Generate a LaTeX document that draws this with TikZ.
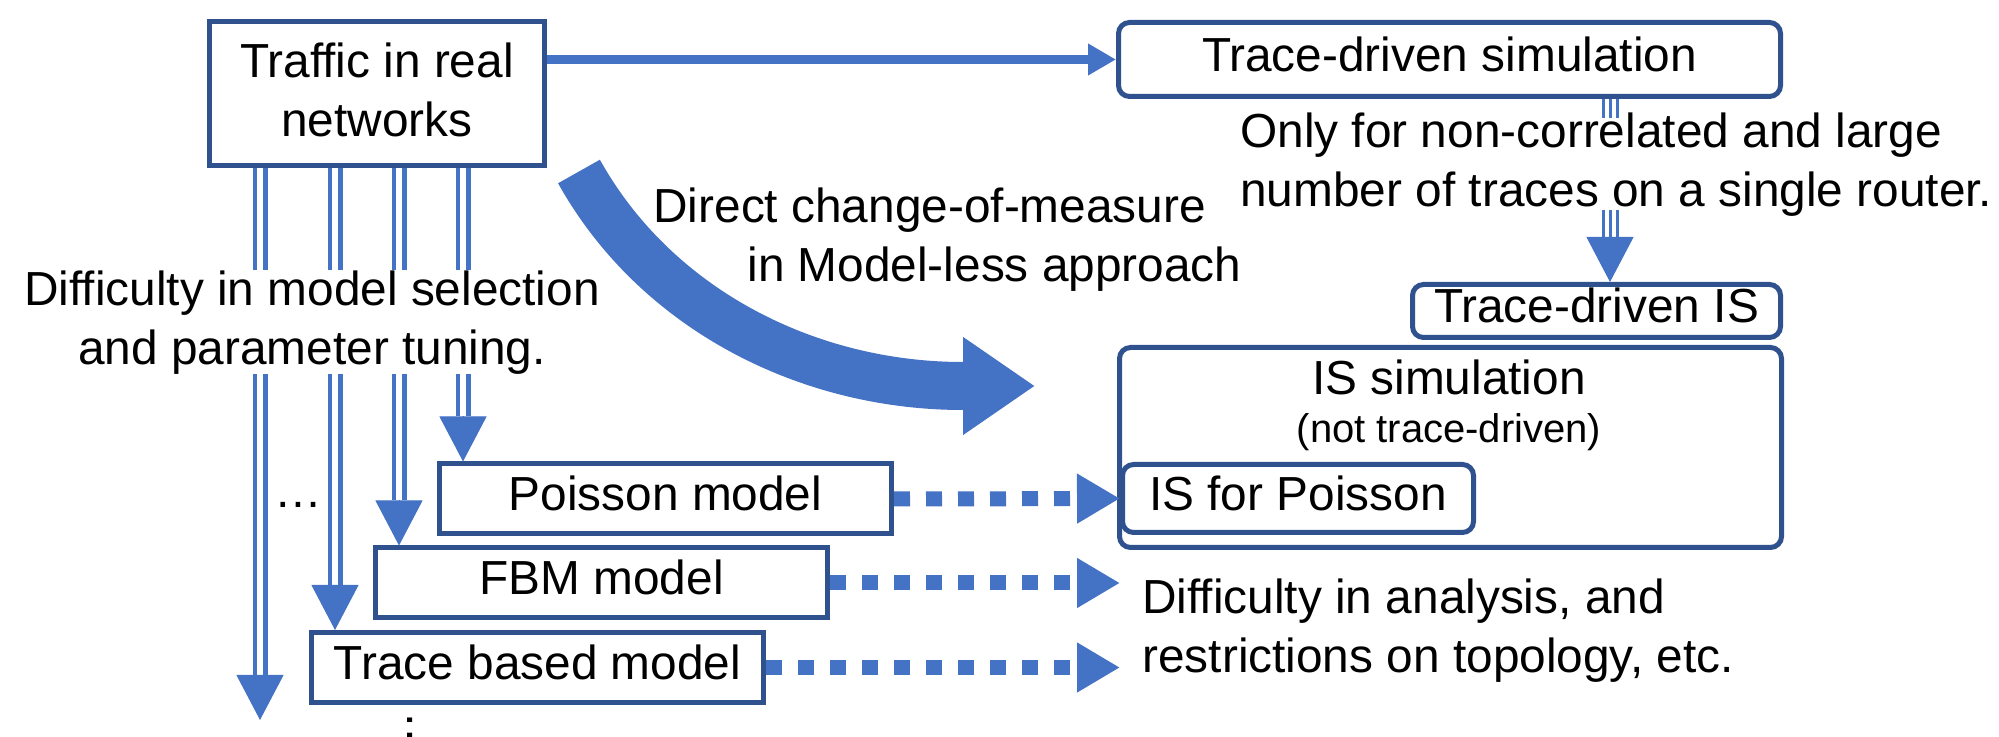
\documentclass[tikz,border=0pt]{standalone}
\usepackage{fontspec}
\setmainfont{Liberation Sans}
\usetikzlibrary{arrows.meta}

\definecolor{arrowblue}{HTML}{4472C4}
\definecolor{boxblue}{HTML}{2F528F}

\newcommand{\diagfont}{\fontsize{23.9pt}{29.5pt}\selectfont}
\newcommand{\notefont}{\fontsize{20pt}{24pt}\selectfont}

\tikzset{
  every node/.style={font=\diagfont},
  box/.style={draw=boxblue, line width=2.5pt, fill=white, inner sep=0pt},
  onebox/.style={box, text height=17pt, text depth=5pt},
  rbox/.style={onebox, rounded corners=5.5pt},
  modelbox/.style={onebox, minimum width=226pt, minimum height=35pt},
  note/.style={inner sep=0pt, fill=white},
  plaintext/.style={inner sep=0pt},
  link/.style={draw=arrowblue, line width=4.5pt, -{Triangle[length=14pt,width=15pt]}},
  dbl/.style={draw=arrowblue, line width=2.25pt, double=white, double distance=3pt},
  trip/.style={draw=arrowblue, line width=1.5pt, double=white, double distance=5.5pt},
  tripcore/.style={draw=arrowblue, line width=1.5pt},
  head/.style={draw=arrowblue, line width=0.5pt, -{Triangle[length=22.5pt,width=23.5pt]}},
  dotlink/.style={draw=arrowblue, line width=7.5pt, dash pattern=on 8pt off 8pt,
    -{Triangle[length=21.5pt,width=23.5pt]}},
  bigarrow/.style={draw=arrowblue, line width=24pt, -{Triangle[length=36pt,width=46.5pt]}},
}

\begin{document}
\begin{tikzpicture}[x=0.5pt, y=-0.5pt]
\useasboundingbox (0,0) rectangle (1999,737);

% ---- boxes ----
\node[box, minimum width=167.5pt, minimum height=72pt, align=center] (traffic) at (377,93.5)
  {Traffic in real\\networks\rule[-3.5pt]{0pt}{0pt}};
\node[rbox, minimum width=331pt, minimum height=37pt] (tds) at (1449.5,59.5) {Trace-driven simulation};
\node[rbox, minimum width=184pt, minimum height=26.5pt] (tdis) at (1596.5,311) {Trace-driven IS};
\node[rbox, minimum width=331pt, minimum height=100pt] (issim) at (1450.5,447.5) {};
\node[plaintext, anchor=base] (issimtitle) at (1449,395) {IS simulation};
\node[plaintext, anchor=base, font=\notefont] (issimsub) at (1449,443) {(not trace-driven)};
\node[rbox, minimum width=175.5pt, minimum height=34pt] (isp) at (1298,498.5) {IS for Poisson};

\node[modelbox] (poisson) at (665.5,499) {Poisson model};
\node[modelbox] (fbm) at (601.5,583) {FBM model};
\node[modelbox] (tbm) at (537.5,667.5) {Trace based model};

% ---- trace-driven branch ----
\draw[link] (traffic.east |- tds.west) -- (tds.west);

\coordinate (tx) at (1610,0);
\coordinate (tdisin) at (tdis.north -| tx);
\draw[trip] (tds.south -| tx) -- ([yshift=22.5pt]tdisin);
\draw[tripcore] (tds.south -| tx) -- ([yshift=22.5pt]tdisin);
\draw[head] ([yshift=22.5pt]tdisin) -- (tdisin);

\node[note, inner ysep=-3pt, anchor=north west, align=left] (onlynote) at (1240,118)
  {Only for non-correlated and large\\number of traces on a single router.};

% ---- model branches ----
\foreach \b in {poisson,fbm,tbm} {
  \coordinate (\b-in) at ([xshift=13pt]\b.north west);
  \draw[dbl] (\b-in |- traffic.south) -- ([yshift=22.5pt]\b-in);
  \draw[head] ([yshift=22.5pt]\b-in) -- (\b-in);
}
\coordinate (leftin) at (260,720);
\draw[dbl] (leftin |- traffic.south) -- ([yshift=22.5pt]leftin);
\draw[head] ([yshift=22.5pt]leftin) -- (leftin);

\node[note, anchor=north, align=center] (selnote) at (312,270)
  {Difficulty in model selection\\and parameter tuning.};

\node[plaintext, anchor=base] (hdots) at (298,508) {…};
\node[plaintext, rotate=-90, anchor=base west] (vdots) at (407.5,711) {…};

% ---- dotted links to the IS side ----
\draw[dotlink] (poisson.east) -- (isp.west);
\draw[dotlink] (fbm.east) -- (isp.west |- fbm.east);
\draw[dotlink] (tbm.east) -- (isp.west |- tbm.east);

\node[plaintext, anchor=north west, align=left] (anote) at (1142,578)
  {Difficulty in analysis, and\\restrictions on topology, etc.};

% ---- model-less change of measure ----
\coordinate (arcstart) at (579,171.5);
\coordinate (arcend) at (1035,386);
\draw[bigarrow] (arcstart) .. controls (655,308) and (806,386) .. (963,386) -- (arcend);

\node[plaintext, anchor=north west, align=left] (dnote) at (653,187)
  {Direct change-of-measure\\\hspace*{47pt}in Model-less approach};

\end{tikzpicture}
\end{document}
